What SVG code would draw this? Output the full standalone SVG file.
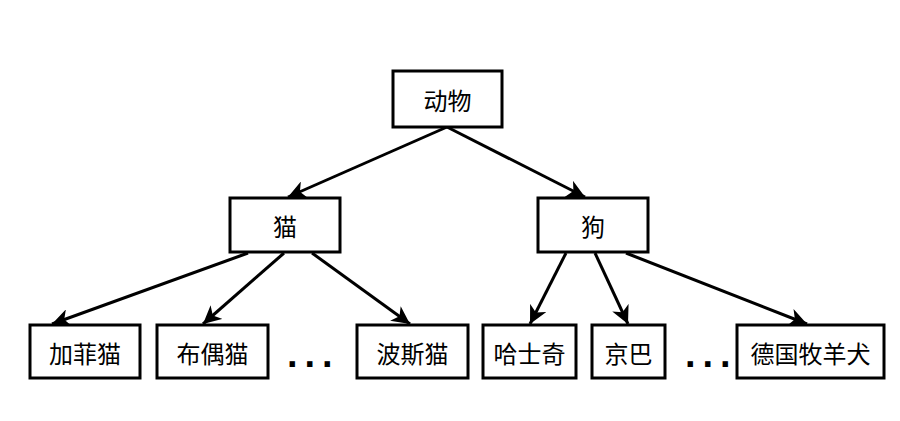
<svg xmlns="http://www.w3.org/2000/svg" width="900" height="421" viewBox="0 0 900 421">
<style>
.box{fill:#fff;stroke:#000;stroke-width:3}
.lbl{font-family:"Noto Sans CJK SC","Liberation Sans",sans-serif;font-size:24px;fill:#000;text-anchor:middle;dominant-baseline:central}
.edge{stroke:#000;stroke-width:3;fill:none;marker-end:url(#arr)}
.dots{font-family:"Liberation Sans",Arial,sans-serif;font-weight:bold;font-size:38px;letter-spacing:7px;fill:#000}
</style>
<defs>
<marker id="arr" markerUnits="userSpaceOnUse" markerWidth="20" markerHeight="18" refX="18" refY="9" orient="auto" viewBox="0 0 20 18">
<path d="M0,0 L18,9 L0,18 L5,9 Z" fill="#000"/>
</marker>
</defs>
<rect width="900" height="421" fill="#fff"/>
<g id="connectors">
<line class="edge" x1="447" y1="127" x2="288" y2="197"/>
<line class="edge" x1="447" y1="127" x2="585" y2="197"/>
<line class="edge" x1="248" y1="253" x2="52" y2="324"/>
<line class="edge" x1="284" y1="253" x2="203" y2="324"/>
<line class="edge" x1="312" y1="253" x2="410" y2="324"/>
<line class="edge" x1="566" y1="253" x2="530" y2="324"/>
<line class="edge" x1="595" y1="253" x2="628" y2="324"/>
<line class="edge" x1="626" y1="253" x2="807" y2="324"/>
</g>
<g id="n-animal"><rect class="box" x="393" y="71" width="109" height="56"/><text class="lbl" x="447.5" y="99">动物</text></g>
<g id="n-cat"><rect class="box" x="230" y="198" width="110" height="54"/><text class="lbl" x="285" y="225">猫</text></g>
<g id="n-dog"><rect class="box" x="538" y="198" width="110" height="54"/><text class="lbl" x="593" y="225">狗</text></g>
<g id="n-garfield"><rect class="box" x="30" y="325" width="110" height="53"/><text class="lbl" x="85" y="352">加菲猫</text></g>
<g id="n-ragdoll"><rect class="box" x="157" y="325" width="111" height="53"/><text class="lbl" x="212.5" y="352">布偶猫</text></g>
<g id="n-persian"><rect class="box" x="357" y="325" width="111" height="53"/><text class="lbl" x="412.5" y="352">波斯猫</text></g>
<g id="n-husky"><rect class="box" x="483" y="325" width="93" height="53"/><text class="lbl" x="529.5" y="352">哈士奇</text></g>
<g id="n-pekingese"><rect class="box" x="592" y="325" width="73" height="53"/><text class="lbl" x="628.5" y="352">京巴</text></g>
<g id="n-shepherd"><rect class="box" x="737" y="325" width="147" height="53"/><text class="lbl" x="810.5" y="352">德国牧羊犬</text></g>
<text class="dots" x="287" y="367">...</text>
<text class="dots" x="685" y="367">...</text>
</svg>
